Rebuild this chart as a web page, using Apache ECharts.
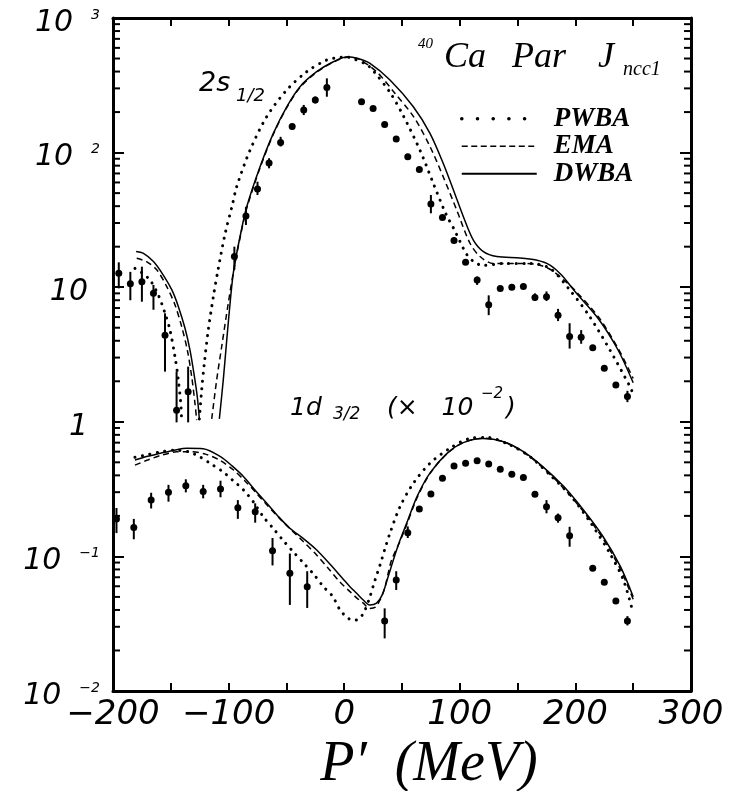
<!DOCTYPE html>
<html>
<head>
<meta charset="utf-8">
<script src="https://cdn.jsdelivr.net/npm/echarts@6.0.0/dist/echarts.min.js"></script>
<style>
  html, body { margin: 0; padding: 0; background: #fff; }
  #main { width: 749px; height: 791px; }
</style>
</head>
<body>
<div id="main"></div>
<script>
// measured momentum distributions (2s1/2 and 1d3/2 x 10^-2)
const upperX = [-195, -185, -175, -165, -155, -145, -135, -95, -85, -75, -65, -55, -45, -35, -25, -15,
  15, 25, 35, 45, 55, 65, 75, 85, 95, 105, 115, 125, 135, 145, 155, 165, 175, 185, 195, 205, 215, 225, 235, 245];
const upperY = [12.7, 10.6, 11.0, 9.0, 4.4, 1.22, 1.67, 16.9, 33.8, 53.7, 83.7, 119, 156, 207, 246, 305,
  239, 213, 162, 126, 93, 75, 41.5, 33, 22.2, 15.3, 11.3, 7.4, 9.8, 10.0, 10.1, 8.4, 8.5, 6.2, 4.3, 4.25, 3.55, 2.5, 1.88, 1.54];
const upperLo = [9.8, 8.0, 7.8, 6.8, 2.36, 0.99, 0.99, 13.5, 29, 48.4, 76.4, 111, 148, 190, 232, 260,
  239, 213, 162, 126, 93, 75, 35.4, 33, 22.2, 15.3, 10.4, 6.2, 9.8, 10.0, 10.1, 7.9, 7.9, 5.6, 3.5, 3.8, 3.55, 2.4, 1.8, 1.4];
const upperHi = [15.3, 13.0, 14.2, 10.4, 6.4, 2.36, 2.57, 20, 39.6, 60.8, 90.8, 131, 164, 226, 261, 356,
  239, 213, 162, 126, 93, 75, 48.4, 33, 22.2, 15.3, 12.0, 8.7, 9.8, 10.0, 10.1, 9.0, 9.3, 6.9, 5.4, 4.8, 3.55, 2.6, 1.97, 1.7];

const lowerX = [-197, -182, -167, -152, -137, -122, -107, -92, -77, -62, -47, -32,
  35, 45, 55, 65, 75, 85, 95, 105, 115, 125, 135, 145, 155, 165, 175, 185, 195, 215, 225, 235, 245];
const lowerY = [0.19, 0.164, 0.262, 0.299, 0.335, 0.303, 0.317, 0.230, 0.215, 0.110, 0.0748, 0.0596,
  0.0331, 0.0668, 0.150, 0.225, 0.291, 0.380, 0.470, 0.492, 0.514, 0.486, 0.444, 0.407, 0.385, 0.289, 0.234, 0.194, 0.1425, 0.0815, 0.0642, 0.0467, 0.0331];
const lowerLo = [0.149, 0.134, 0.227, 0.255, 0.299, 0.27, 0.275, 0.19, 0.178, 0.0857, 0.0436, 0.0414,
  0.0246, 0.0563, 0.137, 0.225, 0.291, 0.380, 0.470, 0.492, 0.514, 0.486, 0.444, 0.407, 0.385, 0.289, 0.209, 0.178, 0.118, 0.0815, 0.0642, 0.0467, 0.0307];
const lowerHi = [0.229, 0.19, 0.297, 0.34, 0.374, 0.34, 0.365, 0.262, 0.248, 0.137, 0.105, 0.0776,
  0.0411, 0.0776, 0.167, 0.225, 0.291, 0.380, 0.470, 0.492, 0.514, 0.486, 0.444, 0.407, 0.385, 0.289, 0.262, 0.208, 0.166, 0.0815, 0.0642, 0.0467, 0.036];

// calculations, 2s1/2 (two lobes each, around the zero)
const pwbaUpL = [[-181, 13.8], [-175, 12.8], [-168, 11.3], [-160.8, 8.75], [-155, 6.4], [-150.7, 4.8], [-146.4, 3.05], [-143.5, 2.05], [-141.4, 1.37], [-140.6, 1.0]];
const emaUpL = [[-179.5, 16.4], [-171, 15.5], [-162, 13.4], [-153.5, 10.1], [-146.4, 7.4], [-140.6, 5.1], [-135.7, 3.41], [-131.9, 2.16], [-129.1, 1.37], [-127.6, 1.03]];
const dwbaUpL = [[-180, 18.4], [-174, 17.9], [-165, 15.5], [-156.5, 12.3], [-149, 9.5], [-143.5, 7.2], [-137.7, 4.95], [-133.4, 3.41], [-130, 2.29], [-127.1, 1.54], [-125.3, 1.05]];

const pwbaUpR = [[-125.3, 1.05], [-123.3, 1.72], [-121, 2.72], [-117.6, 4.8], [-113.2, 8.5], [-108.9, 13.8], [-103, 25], [-97, 40], [-93, 55.8],
  [-81.5, 104], [-67, 185], [-49.7, 292], [-32.4, 399], [-15.1, 487], [-3.6, 510], [3, 512], [10, 490], [19.5, 450], [25.2, 405],
  [39.6, 280], [51.1, 188], [65.6, 104], [77.1, 59], [88, 35], [95, 27], [100, 22], [106, 17.5], [112, 15.5], [120, 14.5],
  [137.6, 15.0], [160.7, 15.0], [178, 13.8], [195.3, 9.5], [212.6, 6.0], [229.9, 3.41], [247.3, 1.82], [250, 1.6]];
const emaUpR = [[-114.6, 1.05], [-110.3, 2.05], [-106, 3.61], [-100.3, 7.6], [-95.5, 13.5], [-90, 23.5], [-84.3, 38.5], [-72.8, 77],
  [-61.3, 137], [-49.7, 216], [-38.2, 305], [-23.8, 396], [-9.4, 470], [3, 510], [12, 497], [28, 399], [44, 275], [60, 185],
  [74.2, 111], [85.7, 66], [97.3, 37.5], [108.8, 21.2], [117.5, 16.9], [129, 15], [150, 15], [166, 14.8], [178, 13.6],
  [190, 11.3], [200, 9.4], [220, 6.0], [237, 3.5], [250, 2.1]];
const dwbaUpR = [[-108, 1.05], [-104.6, 2.05], [-101.6, 4.05], [-98.2, 8.5], [-95.5, 13.5], [-90, 24], [-84.3, 39.6], [-72.8, 78.5],
  [-61.3, 139], [-49.7, 219], [-38.2, 309], [-23.8, 399], [-9.4, 473], [3, 515], [12, 500], [22.3, 460], [39.6, 346], [59.8, 219],
  [74.2, 139], [85.7, 83], [94.4, 53], [103.1, 33.4], [111.7, 22.4], [120.4, 18.4], [132, 16.9], [152, 16.5], [166, 15.9],
  [178, 14.6], [188, 12.3], [200, 9.2], [220, 5.8], [237, 3.4], [250, 1.95]];

// calculations, 1d3/2 (x 10^-2)
const pwbaLow = [[-181, 0.545], [-170, 0.57], [-158, 0.60], [-147, 0.615], [-135, 0.60], [-125, 0.55], [-115, 0.485], [-105, 0.426],
  [-96, 0.365], [-87, 0.311], [-78, 0.25], [-70, 0.197], [-61, 0.16], [-53, 0.132], [-44, 0.108], [-35, 0.0889], [-26, 0.073],
  [-18, 0.0596], [-10, 0.0505], [-3.6, 0.040], [2, 0.0355], [5, 0.0341], [9, 0.0335], [12, 0.0341], [15, 0.036], [18, 0.040],
  [22.3, 0.0502], [26.7, 0.0668], [31, 0.0863], [35, 0.112], [39.6, 0.149], [48.3, 0.234], [59.8, 0.349], [74.2, 0.492],
  [91.5, 0.636], [108.8, 0.753], [123.3, 0.766], [143.4, 0.673], [160.7, 0.551], [178, 0.403], [195.3, 0.286], [212.6, 0.181],
  [229.9, 0.105], [241.5, 0.0668], [250, 0.0378]];
const emaLow = [[-181, 0.477], [-170, 0.52], [-158, 0.565], [-145, 0.598], [-133, 0.60], [-120, 0.575], [-108, 0.52], [-96, 0.44],
  [-86, 0.365], [-76, 0.295], [-66, 0.237], [-55.5, 0.19], [-45, 0.155], [-35.4, 0.129], [-25, 0.105], [-14, 0.082], [-4, 0.065],
  [5, 0.0547], [11, 0.049], [16.5, 0.045], [22, 0.0411], [27, 0.042], [31, 0.0474], [35, 0.058], [38, 0.0748], [41, 0.094],
  [48, 0.128], [54, 0.172], [63, 0.272], [74, 0.41], [89, 0.58], [103, 0.70], [120, 0.755], [138, 0.71], [155, 0.595],
  [172, 0.455], [190, 0.32], [207, 0.215], [224, 0.135], [239, 0.08], [250, 0.048]];
const dwbaLow = [[-181, 0.52], [-170, 0.555], [-159, 0.583], [-147, 0.615], [-136, 0.636], [-122, 0.631], [-107, 0.551], [-97, 0.47],
  [-87, 0.391], [-77, 0.31], [-67, 0.248], [-57, 0.198], [-47, 0.162], [-35, 0.135], [-24, 0.112], [-12, 0.087], [-1, 0.068],
  [5, 0.0596], [11, 0.053], [16.5, 0.0474], [22, 0.0436], [28, 0.045], [33, 0.052], [38, 0.0706], [42.5, 0.094], [48, 0.13],
  [54, 0.176], [63, 0.278], [74, 0.414], [89, 0.583], [103, 0.70], [120, 0.753], [138, 0.711], [155, 0.60], [172, 0.463],
  [190, 0.33], [207, 0.221], [224, 0.14], [239, 0.0839], [250, 0.0502]];

// log minor ticks 2..9 in every decade
const minorY = [];
for (let e = -2; e < 3; e++) {
  for (let m = 2; m < 10; m++) minorY.push([-200, m * Math.pow(10, e)]);
}

const chart = echarts.init(document.getElementById('main'));
const ink = '#000';
const sans = 'DejaVu Sans';
const serif = 'Liberation Serif';

const dotted = { color: ink, width: 3, type: [0.1, 7.5], cap: 'round' };
const dashed = { color: ink, width: 1.5, type: [6, 4] };
const solid = { color: ink, width: 1.5, type: 'solid' };

function curve(name, data, ls) {
  return { name: name, type: 'line', data: data, symbol: 'none', smooth: 0.3, lineStyle: ls,
    itemStyle: { color: ink }, silent: true, z: 3 };
}
function points(xs, ys) {
  return { type: 'scatter', data: xs.map((x, i) => [x, ys[i]]), symbol: 'circle', symbolSize: 7,
    itemStyle: { color: ink, opacity: 1 }, silent: true, z: 4 };
}
function errorBars(xs, lo, hi) {
  return {
    type: 'custom', silent: true, z: 4,
    data: xs.map((x, i) => [x, lo[i], hi[i]]),
    encode: { x: 0, y: [1, 2] },
    renderItem: function (params, api) {
      const a = api.coord([api.value(0), api.value(1)]);
      const b = api.coord([api.value(0), api.value(2)]);
      return { type: 'line', shape: { x1: a[0], y1: a[1], x2: b[0], y2: b[1] }, style: { stroke: ink, lineWidth: 2 } };
    }
  };
}

function yLabel(v) {
  const e = Math.round(Math.log10(v));
  if (e === 0) return '{p|1}';
  if (e === 1) return '{p|10}';
  return '{m|10}{s|' + (e < 0 ? '\u2212' : '') + Math.abs(e) + '}';
}
const labelFont = { fontFamily: sans, fontStyle: 'italic', color: ink };
const frame = { onZero: false, lineStyle: { color: ink, width: 3 } };

const option = {
  animation: false,
  backgroundColor: '#fff',
  grid: { left: 113, right: 58, top: 18, bottom: 100, outerBoundsMode: 'none' },
  legend: {
    orient: 'vertical', left: 455, top: 100, itemWidth: 75, itemHeight: 12, itemGap: 0,
    selectedMode: false,
    itemStyle: { color: 'rgba(0,0,0,0)', borderWidth: 0, opacity: 0 },
    textStyle: { fontFamily: serif, fontStyle: 'italic', fontWeight: 'bold', fontSize: 27, lineHeight: 27.5, color: ink, padding: [0, 0, 0, 12] },
    data: [
      { name: 'PWBA', lineStyle: { width: 3.5, type: [0.1, 15.6], cap: 'round' } },
      { name: 'EMA', lineStyle: { width: 1.5, type: [6, 3.5] } },
      { name: 'DWBA' }
    ]
  },
  xAxis: [{
    type: 'value', min: -200, max: 300, interval: 100, position: 'bottom',
    axisLine: frame,
    axisTick: { inside: true, length: 8, lineStyle: { color: ink, width: 2 } },
    minorTick: { show: true, splitNumber: 2, length: 8, lineStyle: { color: ink, width: 2 } },
    splitLine: { show: false },
    axisLabel: Object.assign({ fontSize: 34, margin: 7, formatter: v => (v < 0 ? '\u2212' + Math.abs(v) : String(v)) }, labelFont),
    name: 'P\u2032  (MeV)', nameLocation: 'middle', nameGap: 39,
    nameTextStyle: { fontFamily: serif, fontStyle: 'italic', fontSize: 56, color: ink, padding: [0, 0, 0, 54] }
  }, {
    type: 'value', min: -200, max: 300, interval: 100, position: 'top',
    axisLine: frame,
    axisTick: { inside: true, length: 8, lineStyle: { color: ink, width: 2 } },
    minorTick: { show: true, splitNumber: 2, length: 8, lineStyle: { color: ink, width: 2 } },
    splitLine: { show: false }, axisLabel: { show: false }
  }],
  yAxis: [{
    type: 'log', logBase: 10, min: 0.01, max: 1000, position: 'left',
    axisLine: frame,
    axisTick: { inside: true, length: 11, lineStyle: { color: ink, width: 2 } },
    splitLine: { show: false },
    axisLabel: {
      margin: 13, padding: [10, 0, 0, 0], formatter: yLabel,
      rich: {
        m: Object.assign({ fontSize: 30, lineHeight: 30, verticalAlign: 'top' }, labelFont),
        p: Object.assign({ fontSize: 30, lineHeight: 30, verticalAlign: 'top', padding: [0, 12, 0, 0] }, labelFont),
        s: Object.assign({ fontSize: 14, lineHeight: 14, verticalAlign: 'top', padding: [0, 0, 0, 18] }, labelFont)
      }
    }
  }, {
    type: 'log', logBase: 10, min: 0.01, max: 1000, position: 'right',
    axisLine: frame,
    axisTick: { inside: true, length: 11, lineStyle: { color: ink, width: 2 } },
    splitLine: { show: false }, axisLabel: { show: false }
  }],
  graphic: [
    { type: 'text', style: { x: 418, y: 44, text: '40', font: 'italic 15px "Liberation Serif"', fill: ink, verticalAlign: 'middle' } },
    { type: 'text', style: { x: 444, y: 58, text: 'Ca', font: 'italic 36px "Liberation Serif"', fill: ink, verticalAlign: 'middle' } },
    { type: 'text', style: { x: 512, y: 58, text: 'Par', font: 'italic 36px "Liberation Serif"', fill: ink, verticalAlign: 'middle' } },
    { type: 'text', style: { x: 598, y: 58, text: 'J', font: 'italic 36px "Liberation Serif"', fill: ink, verticalAlign: 'middle' } },
    { type: 'text', style: { x: 623, y: 70, text: 'ncc1', font: 'italic 20px "Liberation Serif"', fill: ink, verticalAlign: 'middle' } },
    { type: 'text', style: { x: 199, y: 84, text: '2s', font: 'italic 27px "DejaVu Sans"', fill: ink, verticalAlign: 'middle' } },
    { type: 'text', style: { x: 236, y: 96, text: '1/2', font: 'italic 18px "DejaVu Sans"', fill: ink, verticalAlign: 'middle' } },
    { type: 'text', style: { x: 290, y: 408, text: '1d', font: 'italic 25px "DejaVu Sans"', fill: ink, verticalAlign: 'middle' } },
    { type: 'text', style: { x: 333, y: 415, text: '3/2', font: 'italic 17px "DejaVu Sans"', fill: ink, verticalAlign: 'middle' } },
    { type: 'text', style: { x: 387, y: 408, text: '(\u00d7   10', font: 'italic 25px "DejaVu Sans"', fill: ink, verticalAlign: 'middle' } },
    { type: 'text', style: { x: 481, y: 394, text: '\u22122', font: 'italic 15px "DejaVu Sans"', fill: ink, verticalAlign: 'middle' } },
    { type: 'text', style: { x: 506, y: 408, text: ')', font: 'italic 25px "DejaVu Sans"', fill: ink, verticalAlign: 'middle' } }
  ],
  series: [
    curve('PWBA', pwbaUpL, dotted), curve('PWBA', pwbaUpR, dotted), curve('PWBA', pwbaLow, dotted),
    curve('EMA', emaUpL, dashed), curve('EMA', emaUpR, dashed), curve('EMA', emaLow, dashed),
    curve('DWBA', dwbaUpL, solid), curve('DWBA', dwbaUpR, solid), curve('DWBA', dwbaLow, solid),
    points(upperX, upperY), errorBars(upperX, upperLo, upperHi),
    points(lowerX, lowerY), errorBars(lowerX, lowerLo, lowerHi),
    {
      type: 'custom', silent: true, z: 5, data: minorY, encode: { x: 0, y: 1 },
      renderItem: function (params, api) {
        const l = api.coord([-200, api.value(1)]);
        const r = api.coord([300, api.value(1)]);
        return { type: 'group', children: [
          { type: 'line', shape: { x1: l[0], y1: l[1], x2: l[0] + 7, y2: l[1] }, style: { stroke: ink, lineWidth: 2 } },
          { type: 'line', shape: { x1: r[0], y1: r[1], x2: r[0] - 7, y2: r[1] }, style: { stroke: ink, lineWidth: 2 } }
        ] };
      }
    }
  ]
};
chart.setOption(option);
</script>
</body>
</html>
